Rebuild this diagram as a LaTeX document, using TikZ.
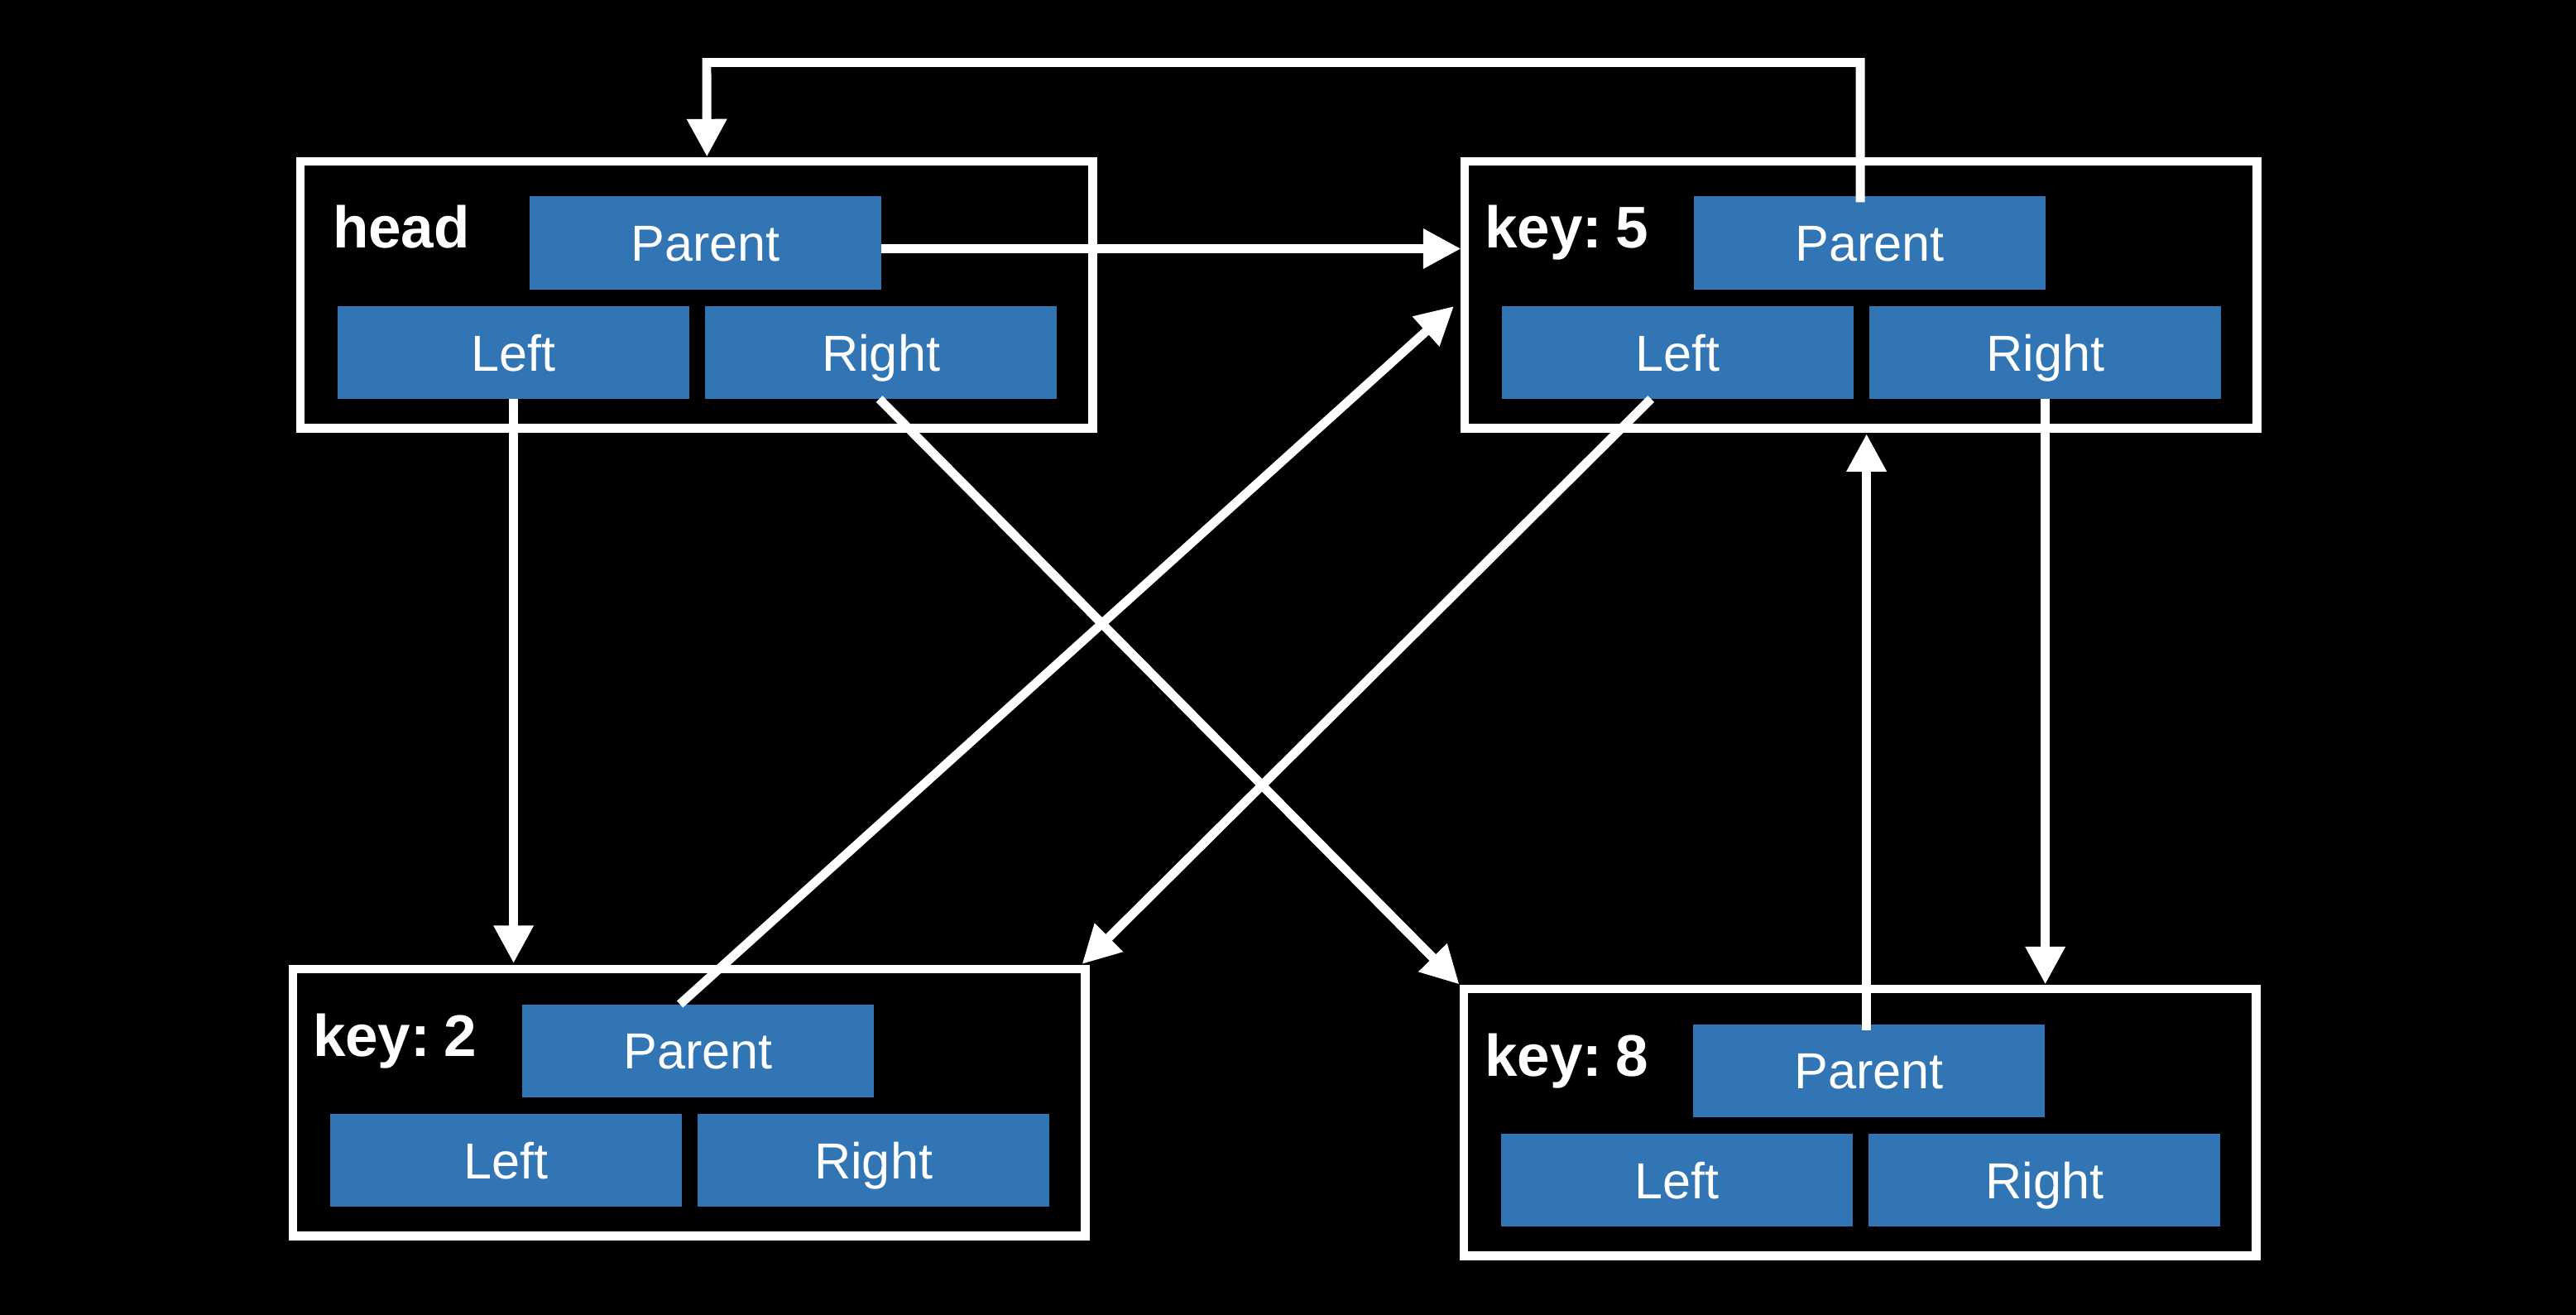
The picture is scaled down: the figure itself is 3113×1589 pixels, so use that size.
\documentclass[tikz,border=0pt]{standalone}
\usepackage{fontspec}
\setmainfont{Liberation Sans}
\usetikzlibrary{arrows.meta,calc}
\definecolor{cellblue}{RGB}{50,117,181}
\newcommand\mybox[5]{%
  \node[frame] (#1) at (#2,#3) {};
  \node[lbl] (#1lab) at ($(#2,#3)+(#5,105)$) {#4};
  \node[cell] (#1p) at ($(#2,#3)+(277,42.5)$) {Parent};
  \node[cell] (#1l) at ($(#2,#3)+(45,175)$) {Left};
  \node[cell] (#1r) at ($(#2,#3)+(489,175)$) {Right};
}
\begin{document}
\begin{tikzpicture}[x=0.01cm,y=-0.01cm,
  frame/.style={draw=white,line width=3.1pt,minimum width=9.57cm,minimum height=3.22cm,inner sep=0pt,outer sep=0pt,anchor=north west},
  cell/.style={fill=cellblue,text=white,minimum width=4.25cm,minimum height=1.12cm,inner sep=0pt,outer sep=0pt,anchor=north west,font=\fontsize{17.4pt}{20pt}\selectfont,text height=12.5pt,text depth=0pt},
  lbl/.style={text=white,inner sep=0pt,outer sep=0pt,anchor=base west,font=\bfseries\fontsize{20.2pt}{24pt}\selectfont},
  arr/.style={draw=white,line width=3.1pt,-{Triangle[length=13pt,width=13pt]}}
]
\fill[black] (0,0) rectangle (3113,1589);
\useasboundingbox (0,0) rectangle (3113,1589);

\mybox{head}{363}{195}{head}{39}
\mybox{kf}{1770}{195}{key:\hspace{0.23em}5}{24}
\mybox{kt}{354}{1171}{key:\hspace{0.23em}2}{24}
\mybox{ke}{1769}{1195}{key:\hspace{0.23em}8}{25}

\coordinate (rail) at (854,75.5);
\draw[arr] ([shift={(-11.5,7)}]kfp.north) |- (rail) -- ([shift={(12.5,-5.5)}]head.north);
\draw[arr] ([shift={(0,7)}]headp.east) -- ($(headp.east -| kf.west)+(-4.5,7)$);
\draw[arr] (headl.south) -- ($(headl.south |- kt.north)+(0,-7)$);
\draw[arr] ([shift={(-2,0)}]headr.south) -- ($(ke.north west)+(-5.5,-5.5)$);
\draw[arr] ([shift={(-22,0)}]ktp.north) -- ($(kf.north west)+(-13,175)$);
\draw[arr] ([shift={(-32.5,0)}]kfl.south) -- ($(kt.north east)+(-4,-6)$);
\draw[arr] (kfr.south) -- ($(kfr.south |- ke.north)+(0,-5.5)$);
\coordinate (esrc) at ([shift={(-3,7)}]kep.north);
\draw[arr] (esrc) -- ($(esrc |- kf.south)+(0,7)$);
\end{tikzpicture}
\end{document}
